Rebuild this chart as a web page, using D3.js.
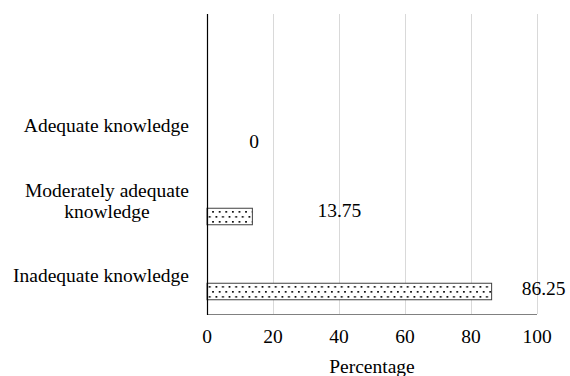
<!DOCTYPE html>
<html><head><meta charset="utf-8"><script src="https://cdn.jsdelivr.net/npm/d3@7"></script></head>
<body style="margin:0">
<svg id="chart" width="570" height="376"></svg>
<script>
// ---- data ----
const categories = ["Inadequate knowledge", "Moderately adequate knowledge", "Adequate knowledge"];
const categoryLines = [["Inadequate knowledge"], ["Moderately adequate", "knowledge"], ["Adequate knowledge"]];
const values = [86.25, 13.75, 0];
const valueLabels = ["86.25", "13.75", "0"];
const xTicks = [0, 20, 40, 60, 80, 100];
const xTitle = "Percentage";

function draw() {
const svg = d3.select("#chart");
svg.selectAll("*").remove();
const pLeft = 207, pRight = 537, pTop = 14, pBottom = 314;
const fontSize = 19.5;
const FONT = "Liberation Serif, Times New Roman, Tinos, serif";

const x = d3.scaleLinear().domain([0, 100]).range([pLeft, pRight]);
// Excel-style: first category at the bottom, with an empty slot at the top
const y = d3.scaleBand().domain(["__blank__", ...categories.slice().reverse()]).range([pTop, pBottom]);

// pattern
const defs = svg.append("defs");
const pat = defs.append("pattern").attr("id", "dots").attr("patternUnits", "userSpaceOnUse")
  .attr("width", 6.6).attr("height", 10);
pat.append("rect").attr("width", 6.6).attr("height", 10).attr("fill", "#fff");
pat.append("rect").attr("x", 1).attr("y", 1).attr("width", 1.7).attr("height", 1.7).attr("fill", "#000");
pat.append("rect").attr("x", 4.3).attr("y", 6).attr("width", 1.7).attr("height", 1.7).attr("fill", "#000");

// gridlines
svg.append("g").selectAll("line").data(xTicks.filter(t => t > 0)).join("line")
  .attr("x1", d => Math.round(x(d)) + 0.5).attr("x2", d => Math.round(x(d)) + 0.5)
  .attr("y1", pTop).attr("y2", pBottom)
  .attr("stroke", "#d9d9d9").attr("stroke-width", 1);

// bars
const barH = 16.5;
const barCenter = c => y(c) + y.bandwidth() * 0.7;
svg.append("g").selectAll("rect").data(categories).join("rect")
  .attr("x", x(0))
  .attr("y", c => barCenter(c) - barH / 2)
  .attr("width", (c, i) => x(values[i]) - x(0))
  .attr("height", barH)
  .attr("fill", "url(#dots)")
  .attr("stroke", (c, i) => values[i] > 0 ? "#404040" : "none")
  .attr("stroke-width", 1);

// bottom axis line
svg.append("line").attr("x1", pLeft).attr("x2", pRight).attr("y1", pBottom + 0.5).attr("y2", pBottom + 0.5)
  .attr("stroke", "#808080").attr("stroke-width", 1);
// left axis line
svg.append("line").attr("x1", pLeft + 0.5).attr("x2", pLeft + 0.5).attr("y1", pTop).attr("y2", pBottom + 1)
  .attr("stroke", "#000").attr("stroke-width", 1.2);

function addText(parent, xx, yy, anchor, str) {
  return parent.append("text")
    .attr("x", xx).attr("y", yy)
    .attr("font-size", fontSize)
    .attr("font-family", "Liberation Serif")
    .style("font-family", FONT)
    .style("font-size", fontSize + "px")
    .attr("text-anchor", anchor)
    .text(str);
}

// x tick labels
xTicks.forEach(t => addText(svg, x(t), 343, "middle", String(t)));

// x title
addText(svg, (pLeft + pRight) / 2, 373, "middle", xTitle);

// category labels: right-aligned block, lines centred within block
const labelRight = 189, lineH = 21;
categories.forEach((c, i) => {
  const lines = categoryLines[i];
  const cy = y(c) + y.bandwidth() / 2;
  const ts = lines.map((ln, j) => addText(svg, 0,
      cy + (j - (lines.length - 1) / 2) * lineH + fontSize * 0.3, "middle", ln));
  const w = d3.max(ts, t => t.node().getComputedTextLength());
  ts.forEach(t => t.attr("x", labelRight - w / 2));
});

// value labels (positions nudged as in the original layout)
const labelNudge = [[52, 3], [87, 0.5], [47, 6.5]];
categories.forEach((c, i) => {
  addText(svg, x(values[i]) + labelNudge[i][0], barCenter(c) + labelNudge[i][1], "middle", valueLabels[i]);
});
}

draw();
if (document.fonts && document.fonts.ready) document.fonts.ready.then(draw);
</script>
</body>
</html>
